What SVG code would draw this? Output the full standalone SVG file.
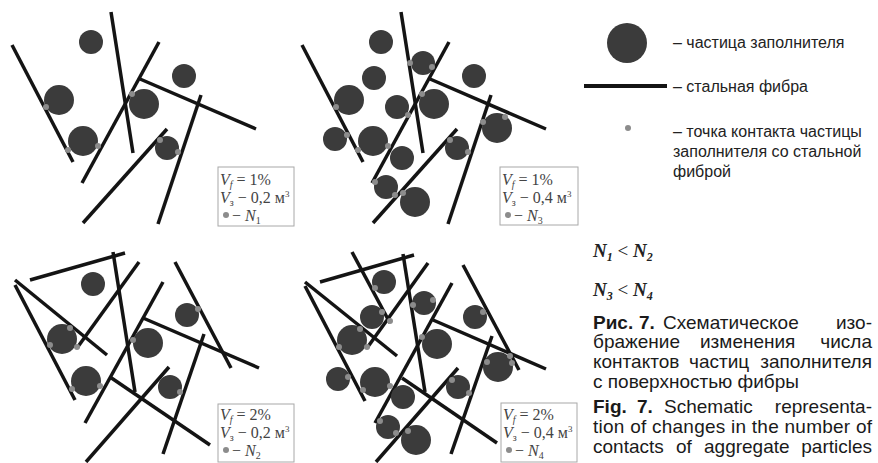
<svg xmlns="http://www.w3.org/2000/svg" width="878" height="463" viewBox="0 0 878 463">
<style>
.f{stroke:#141414;stroke-width:3.5;stroke-linecap:butt;fill:none}
.c{fill:#3b3b3b}
.d{fill:#8c8c8c}
.box{fill:#fff;stroke:#a8a8a8;stroke-width:1}
.bt{font-family:"Liberation Serif",serif;font-size:16px;fill:#444}
.lg{font-family:"Liberation Sans",Arial,sans-serif;font-size:16px;fill:#222}
.cap{font-family:"Liberation Sans",Arial,sans-serif;font-size:19px;fill:#1a1a1a}
.b{font-weight:bold}
.e{text-anchor:end}
.n{font-family:"Liberation Serif",serif;font-size:19px;font-style:italic;font-weight:bold;fill:#222}
</style>
<rect width="878" height="463" fill="#fff"/>

<!-- Panel 1 -->
<g id="panel1">
<g id="p1-fibers">
<line class="f" x1="12" y1="45" x2="73" y2="162"/>
<line class="f" x1="111" y1="12" x2="133" y2="153"/>
<line class="f" x1="159" y1="42" x2="82" y2="183"/>
<line class="f" x1="140" y1="79" x2="256" y2="129"/>
<line class="f" x1="201" y1="95" x2="158" y2="224"/>
<line class="f" x1="167" y1="129" x2="83" y2="223"/>
</g>
<g id="p1-particles">
<circle class="c" cx="91" cy="42" r="12"/>
<circle class="c" cx="59" cy="100" r="15"/>
<circle class="c" cx="144" cy="104" r="15"/>
<circle class="c" cx="184" cy="76" r="12"/>
<circle class="c" cx="83" cy="141" r="15"/>
<circle class="c" cx="167" cy="148" r="12"/>
</g>
<g id="p1-contacts">
<circle class="d" cx="46" cy="107" r="3"/>
<circle class="d" cx="68" cy="150" r="3"/>
<circle class="d" cx="98" cy="146" r="3"/>
<circle class="d" cx="132" cy="94" r="3"/>
<circle class="d" cx="160" cy="140" r="3"/>
<circle class="d" cx="178" cy="152" r="3"/>
</g>
<g id="p1-label">
<rect class="box" x="218" y="167" width="76" height="59"/>
<text class="bt" x="220" y="185"><tspan font-style="italic">V</tspan><tspan font-style="italic" font-size="10" dy="3">f</tspan><tspan dy="-3"> = 1%</tspan></text>
<text class="bt" x="220" y="203"><tspan font-style="italic">V</tspan><tspan font-size="10" dy="3">з</tspan><tspan dy="-3"> − 0,2 м</tspan><tspan font-size="9" dy="-6">3</tspan></text>
<circle class="d" cx="226" cy="215" r="3"/>
<text class="bt" x="232" y="221">− <tspan font-style="italic">N</tspan><tspan font-size="10" dy="3">1</tspan></text>
</g>
</g>

<!-- Panel 2 -->
<g id="panel2">
<g id="p2-fibers">
<line class="f" x1="302" y1="45" x2="363" y2="162"/>
<line class="f" x1="401" y1="12" x2="423" y2="153"/>
<line class="f" x1="449" y1="42" x2="372" y2="183"/>
<line class="f" x1="430" y1="79" x2="546" y2="129"/>
<line class="f" x1="491" y1="95" x2="448" y2="224"/>
<line class="f" x1="457" y1="129" x2="373" y2="223"/>
</g>
<g id="p2-particles">
<circle class="c" cx="381" cy="42" r="12"/>
<circle class="c" cx="374" cy="78" r="12"/>
<circle class="c" cx="349" cy="100" r="15"/>
<circle class="c" cx="423" cy="63" r="12"/>
<circle class="c" cx="474" cy="76" r="12"/>
<circle class="c" cx="434" cy="104" r="15"/>
<circle class="c" cx="397" cy="107" r="12"/>
<circle class="c" cx="497" cy="128" r="15"/>
<circle class="c" cx="335" cy="139" r="12"/>
<circle class="c" cx="373" cy="141" r="15"/>
<circle class="c" cx="402" cy="158" r="12"/>
<circle class="c" cx="457" cy="148" r="12"/>
<circle class="c" cx="386" cy="187" r="12"/>
<circle class="c" cx="415" cy="202" r="15"/>
</g>
<g id="p2-contacts">
<circle class="d" cx="410" cy="63" r="3"/>
<circle class="d" cx="432" cy="67" r="3"/>
<circle class="d" cx="422" cy="94" r="3"/>
<circle class="d" cx="336" cy="107" r="3"/>
<circle class="d" cx="408" cy="115" r="3"/>
<circle class="d" cx="483" cy="122" r="3"/>
<circle class="d" cx="505" cy="117" r="3"/>
<circle class="d" cx="347" cy="135" r="3"/>
<circle class="d" cx="358" cy="150" r="3"/>
<circle class="d" cx="388" cy="146" r="3"/>
<circle class="d" cx="450" cy="140" r="3"/>
<circle class="d" cx="468" cy="152" r="3"/>
<circle class="d" cx="375" cy="182" r="3"/>
<circle class="d" cx="395" cy="195" r="3"/>
<circle class="d" cx="403" cy="193" r="3"/>
</g>
<g id="p2-label">
<rect class="box" x="500" y="167" width="78" height="58"/>
<text class="bt" x="502" y="185"><tspan font-style="italic">V</tspan><tspan font-style="italic" font-size="10" dy="3">f</tspan><tspan dy="-3"> = 1%</tspan></text>
<text class="bt" x="502" y="203"><tspan font-style="italic">V</tspan><tspan font-size="10" dy="3">з</tspan><tspan dy="-3"> − 0,4 м</tspan><tspan font-size="9" dy="-6">3</tspan></text>
<circle class="d" cx="508" cy="215" r="3"/>
<text class="bt" x="514" y="221">− <tspan font-style="italic">N</tspan><tspan font-size="10" dy="3">3</tspan></text>
</g>
</g>

<!-- Panel 3 -->
<g id="panel3">
<g id="p3-fibers">
<line class="f" x1="30" y1="280" x2="125" y2="253"/>
<line class="f" x1="15" y1="280" x2="107" y2="355"/>
<line class="f" x1="15" y1="285" x2="75" y2="400"/>
<line class="f" x1="113" y1="252" x2="135" y2="392"/>
<line class="f" x1="139" y1="262" x2="77" y2="348"/>
<line class="f" x1="163" y1="282" x2="85" y2="423"/>
<line class="f" x1="175" y1="262" x2="231" y2="368"/>
<line class="f" x1="143" y1="318" x2="259" y2="368"/>
<line class="f" x1="204" y1="334" x2="163" y2="454"/>
<line class="f" x1="169" y1="367" x2="86" y2="462"/>
<line class="f" x1="110" y1="377" x2="210" y2="445"/>
</g>
<g id="p3-particles">
<circle class="c" cx="93" cy="284" r="12"/>
<circle class="c" cx="62" cy="339" r="15"/>
<circle class="c" cx="148" cy="343" r="15"/>
<circle class="c" cx="187" cy="315" r="12"/>
<circle class="c" cx="86" cy="381" r="15"/>
<circle class="c" cx="170" cy="387" r="12"/>
</g>
<g id="p3-contacts">
<circle class="d" cx="70" cy="328" r="3"/>
<circle class="d" cx="50" cy="345" r="3"/>
<circle class="d" cx="77" cy="347" r="3"/>
<circle class="d" cx="133" cy="340" r="3"/>
<circle class="d" cx="198" cy="309" r="3"/>
<circle class="d" cx="72" cy="389" r="3"/>
<circle class="d" cx="100" cy="386" r="3"/>
<circle class="d" cx="180" cy="392" r="3"/>
</g>
<g id="p3-label">
<rect class="box" x="218" y="404" width="76" height="58"/>
<text class="bt" x="220" y="420"><tspan font-style="italic">V</tspan><tspan font-style="italic" font-size="10" dy="3">f</tspan><tspan dy="-3"> = 2%</tspan></text>
<text class="bt" x="220" y="438"><tspan font-style="italic">V</tspan><tspan font-size="10" dy="3">з</tspan><tspan dy="-3"> − 0,2 м</tspan><tspan font-size="9" dy="-6">3</tspan></text>
<circle class="d" cx="226" cy="450" r="3"/>
<text class="bt" x="232" y="456">− <tspan font-style="italic">N</tspan><tspan font-size="10" dy="3">2</tspan></text>
</g>
</g>

<!-- Panel 4 -->
<g id="panel4">
<g id="p4-fibers">
<line class="f" x1="320" y1="282" x2="414" y2="255"/>
<line class="f" x1="352" y1="252" x2="390" y2="323"/>
<line class="f" x1="305" y1="282" x2="397" y2="356"/>
<line class="f" x1="305" y1="286" x2="365" y2="401"/>
<line class="f" x1="403" y1="254" x2="425" y2="392"/>
<line class="f" x1="428" y1="263" x2="367" y2="348"/>
<line class="f" x1="452" y1="283" x2="375" y2="423"/>
<line class="f" x1="463" y1="265" x2="519" y2="370"/>
<line class="f" x1="433" y1="320" x2="546" y2="369"/>
<line class="f" x1="492" y1="336" x2="451" y2="454"/>
<line class="f" x1="458" y1="368" x2="376" y2="462"/>
<line class="f" x1="402" y1="378" x2="497" y2="443"/>
</g>
<g id="p4-particles">
<circle class="c" cx="384" cy="282" r="12"/>
<circle class="c" cx="372" cy="317" r="12"/>
<circle class="c" cx="352" cy="340" r="15"/>
<circle class="c" cx="424" cy="303" r="12"/>
<circle class="c" cx="475" cy="317" r="12"/>
<circle class="c" cx="437" cy="344" r="15"/>
<circle class="c" cx="498" cy="367" r="15"/>
<circle class="c" cx="338" cy="379" r="12"/>
<circle class="c" cx="375" cy="382" r="15"/>
<circle class="c" cx="403" cy="397" r="12"/>
<circle class="c" cx="458" cy="387" r="12"/>
<circle class="c" cx="388" cy="427" r="12"/>
<circle class="c" cx="416" cy="440" r="15"/>
</g>
<g id="p4-contacts">
<circle class="d" cx="375" cy="288" r="3"/>
<circle class="d" cx="413" cy="305" r="3"/>
<circle class="d" cx="433" cy="300" r="3"/>
<circle class="d" cx="382" cy="312" r="3"/>
<circle class="d" cx="390" cy="321" r="3"/>
<circle class="d" cx="360" cy="329" r="3"/>
<circle class="d" cx="367" cy="347" r="3"/>
<circle class="d" cx="339" cy="347" r="3"/>
<circle class="d" cx="422" cy="337" r="3"/>
<circle class="d" cx="483" cy="312" r="3"/>
<circle class="d" cx="510" cy="356" r="3"/>
<circle class="d" cx="487" cy="362" r="3"/>
<circle class="d" cx="512" cy="363" r="3"/>
<circle class="d" cx="348" cy="377" r="3"/>
<circle class="d" cx="363" cy="390" r="3"/>
<circle class="d" cx="390" cy="386" r="3"/>
<circle class="d" cx="452" cy="380" r="3"/>
<circle class="d" cx="469" cy="393" r="3"/>
<circle class="d" cx="380" cy="421" r="3"/>
<circle class="d" cx="396" cy="433" r="3"/>
<circle class="d" cx="408" cy="431" r="3"/>
</g>
<g id="p4-label">
<rect class="box" x="501" y="403" width="76" height="59"/>
<text class="bt" x="503" y="420"><tspan font-style="italic">V</tspan><tspan font-style="italic" font-size="10" dy="3">f</tspan><tspan dy="-3"> = 2%</tspan></text>
<text class="bt" x="503" y="438"><tspan font-style="italic">V</tspan><tspan font-size="10" dy="3">з</tspan><tspan dy="-3"> − 0,4 м</tspan><tspan font-size="9" dy="-6">3</tspan></text>
<circle class="d" cx="509" cy="450" r="3"/>
<text class="bt" x="515" y="456">− <tspan font-style="italic">N</tspan><tspan font-size="10" dy="3">4</tspan></text>
</g>
</g>

<!-- Legend -->
<g id="legend">
<g id="legend-particle">
<circle class="c" cx="627" cy="43" r="20"/>
<text class="lg" x="673" y="48">– частица заполнителя</text>
</g>
<g id="legend-fiber">
<line x1="584" y1="86" x2="667" y2="86" stroke="#141414" stroke-width="4"/>
<text class="lg" x="673" y="92">– стальная фибра</text>
</g>
<g id="legend-contact">
<circle class="d" cx="628" cy="128" r="3"/>
<text class="lg" x="673" y="137">– точка контакта частицы</text>
<text class="lg" x="673" y="157">заполнителя со стальной</text>
<text class="lg" x="673" y="177">фиброй</text>
</g>
</g>

<!-- Relations -->
<g id="relations">
<text class="n" x="593" y="257">N<tspan font-size="12" dy="4">1</tspan><tspan dy="-4" font-style="normal" font-weight="normal"> &lt; </tspan>N<tspan font-size="12" dy="4">2</tspan></text>
<text class="n" x="593" y="296">N<tspan font-size="12" dy="4">3</tspan><tspan dy="-4" font-style="normal" font-weight="normal"> &lt; </tspan>N<tspan font-size="12" dy="4">4</tspan></text>
</g>

<!-- Caption -->
<g id="caption">
<text class="cap b" x="593" y="329">Рис.</text>
<text class="cap b" x="639" y="329">7.</text>
<text class="cap" x="663" y="329">Схематическое</text>
<text class="cap e" x="872" y="329">изо-</text>
<text class="cap" x="593" y="348">бражение</text>
<text class="cap" x="700" y="348">изменения</text>
<text class="cap e" x="872" y="348">числа</text>
<text class="cap" x="593" y="368">контактов</text>
<text class="cap" x="689" y="368">частиц</text>
<text class="cap e" x="872" y="368">заполнителя</text>
<text class="cap" x="593" y="388">с поверхностью фибры</text>
<text class="cap b" x="593" y="413">Fig.</text>
<text class="cap b" x="637" y="413">7.</text>
<text class="cap" x="664" y="413">Schematic</text>
<text class="cap e" x="872" y="413">representa-</text>
<text class="cap" x="593" y="433" textLength="279" lengthAdjust="spacing">tion of changes in the number of</text>
<text class="cap" x="593" y="453">contacts</text>
<text class="cap" x="676" y="453">of</text>
<text class="cap" x="704" y="453">aggregate</text>
<text class="cap e" x="872" y="453">particles</text>
</g>
</svg>
